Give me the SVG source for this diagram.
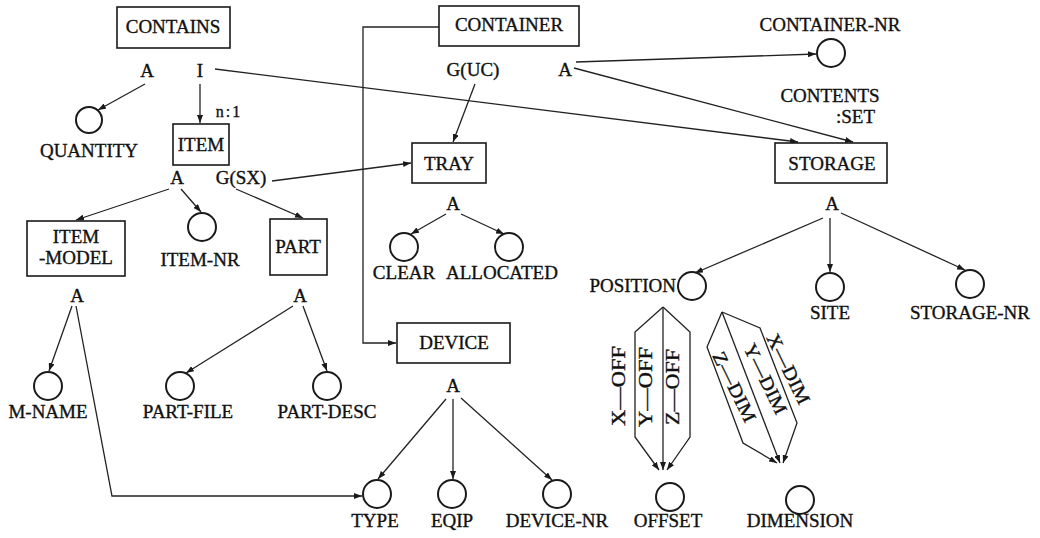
<svg xmlns="http://www.w3.org/2000/svg" width="1040" height="538" viewBox="0 0 1040 538">
<defs>
<style>
.t{font-family:'Liberation Serif','Times New Roman','DejaVu Serif',serif;font-size:19px;fill:#111;stroke:#111;stroke-width:0.35;text-anchor:middle}
.b{fill:#fff;stroke:#1a1a1a;stroke-width:1.6}
.c{fill:none;stroke:#1a1a1a;stroke-width:2}
.l{fill:none;stroke:#222;stroke-width:1.3}
</style>
<marker id="ah" markerWidth="8" markerHeight="6" refX="8" refY="3" orient="auto" markerUnits="userSpaceOnUse">
<path d="M0,0 L8,3 L0,6 z" fill="#1a1a1a"/>
</marker>
</defs>
<rect width="1040" height="538" fill="#fff"/>

<g id="connectors">
<path class="l" d="M145,84 L98,110" marker-end="url(#ah)"/>
<path class="l" d="M200,84 L200,123" marker-end="url(#ah)"/>
<path class="l" d="M215,69 L798,142" marker-end="url(#ah)"/>
<path class="l" d="M576,62 L816,54" marker-end="url(#ah)"/>
<path class="l" d="M574,68 L853,142" marker-end="url(#ah)"/>
<path class="l" d="M475,84 L453,142" marker-end="url(#ah)"/>
<path class="l" d="M272,181 L411,163" marker-end="url(#ah)"/>
<path class="l" d="M439,27 L363,27 L363,343 L396,343" marker-end="url(#ah)"/>
<path class="l" d="M169,189 L76,220" marker-end="url(#ah)"/>
<path class="l" d="M181,189 L201,212" marker-end="url(#ah)"/>
<path class="l" d="M236,189 L303,218" marker-end="url(#ah)"/>
<path class="l" d="M446,214 L411,234" marker-end="url(#ah)"/>
<path class="l" d="M461,214 L504,234" marker-end="url(#ah)"/>
<path class="l" d="M72,306 L49,371" marker-end="url(#ah)"/>
<path class="l" d="M76,306 L112,496 L362,496" marker-end="url(#ah)"/>
<path class="l" d="M293,306 L186,373" marker-end="url(#ah)"/>
<path class="l" d="M303,306 L327,371" marker-end="url(#ah)"/>
<path class="l" d="M446,399 L378,479" marker-end="url(#ah)"/>
<path class="l" d="M453,399 L453,479" marker-end="url(#ah)"/>
<path class="l" d="M461,398 L552,480" marker-end="url(#ah)"/>
<path class="l" d="M823,218 L695,273" marker-end="url(#ah)"/>
<path class="l" d="M830,218 L830,272" marker-end="url(#ah)"/>
<path class="l" d="M841,213 L965,270" marker-end="url(#ah)"/>
<path class="l" d="M663,307 L635,332 L635,437 L659,470" marker-end="url(#ah)"/>
<path class="l" d="M663,307 L663,470" marker-end="url(#ah)"/>
<path class="l" d="M663,307 L690,332 L690,437 L667,470" marker-end="url(#ah)"/>
<path class="l" d="M722,312 L707,347 L743,443 L777,463" marker-end="url(#ah)"/>
<path class="l" d="M722,312 L780,463" marker-end="url(#ah)"/>
<path class="l" d="M722,312 L760,328 L797,423 L783,463" marker-end="url(#ah)"/>
</g>

<g id="contains">
<rect class="b" x="117" y="7" width="113" height="41"/>
<text class="t" x="173" y="33">CONTAINS</text>
<text class="t" x="147" y="77">A</text>
<text class="t" x="200" y="77">I</text>
<text class="t" x="229" y="117" style="font-size:16px;letter-spacing:2px">n:1</text>
</g>
<g id="quantity">
<circle class="c" cx="89" cy="120" r="13"/>
<text class="t" x="89" y="157">QUANTITY</text>
</g>
<g id="item">
<rect class="b" x="173" y="124" width="56" height="41"/>
<text class="t" x="201" y="151">ITEM</text>
<text class="t" x="177" y="184">A</text>
<text class="t" x="241" y="184">G(SX)</text>
</g>
<g id="container">
<rect class="b" x="439" y="6" width="140" height="40"/>
<text class="t" x="509" y="31">CONTAINER</text>
<text class="t" x="473" y="76">G(UC)</text>
<text class="t" x="565" y="76">A</text>
</g>
<g id="container-nr">
<text class="t" x="830" y="31">CONTAINER-NR</text>
<circle class="c" cx="831" cy="53" r="14"/>
</g>
<g id="contents-label">
<text class="t" x="830" y="102">CONTENTS</text>
<text class="t" x="875" y="123" style="text-anchor:end">:SET</text>
</g>
<g id="storage">
<rect class="b" x="775" y="143" width="112" height="40"/>
<text class="t" x="832" y="170">STORAGE</text>
<text class="t" x="832" y="210">A</text>
</g>
<g id="tray">
<rect class="b" x="412" y="143" width="74" height="40"/>
<text class="t" x="449" y="170">TRAY</text>
<text class="t" x="453" y="210">A</text>
</g>
<g id="clear">
<circle class="c" cx="404" cy="247" r="14"/>
<text class="t" x="404" y="279">CLEAR</text>
</g>
<g id="allocated">
<circle class="c" cx="509" cy="247" r="14"/>
<text class="t" x="502" y="279">ALLOCATED</text>
</g>
<g id="item-model">
<rect class="b" x="27" y="221" width="98" height="55"/>
<text class="t" x="76" y="243">ITEM</text>
<text class="t" x="76" y="264">-MODEL</text>
<text class="t" x="77" y="302">A</text>
</g>
<g id="item-nr">
<circle class="c" cx="202" cy="227" r="14"/>
<text class="t" x="200" y="266">ITEM-NR</text>
</g>
<g id="part">
<rect class="b" x="270" y="219" width="57" height="56"/>
<text class="t" x="298" y="253">PART</text>
<text class="t" x="300" y="302">A</text>
</g>
<g id="m-name">
<circle class="c" cx="48" cy="386" r="14"/>
<text class="t" x="48" y="418">M-NAME</text>
</g>
<g id="part-file">
<circle class="c" cx="180" cy="386" r="14"/>
<text class="t" x="188" y="418">PART-FILE</text>
</g>
<g id="part-desc">
<circle class="c" cx="327" cy="386" r="14"/>
<text class="t" x="327" y="418">PART-DESC</text>
</g>
<g id="device">
<rect class="b" x="397" y="323" width="113" height="40"/>
<text class="t" x="454" y="349">DEVICE</text>
<text class="t" x="453" y="392">A</text>
</g>
<g id="type">
<circle class="c" cx="377" cy="494" r="14"/>
<text class="t" x="375" y="527">TYPE</text>
</g>
<g id="eqip">
<circle class="c" cx="452" cy="494" r="14"/>
<text class="t" x="452" y="527">EQIP</text>
</g>
<g id="device-nr">
<circle class="c" cx="557" cy="494" r="14"/>
<text class="t" x="557" y="527">DEVICE-NR</text>
</g>
<g id="position">
<text class="t" x="676" y="292" style="text-anchor:end">POSITION</text>
<circle class="c" cx="692" cy="286" r="14"/>
</g>
<g id="site">
<circle class="c" cx="830" cy="287" r="14"/>
<text class="t" x="830" y="319">SITE</text>
</g>
<g id="storage-nr">
<circle class="c" cx="970" cy="284" r="14"/>
<text class="t" x="970" y="319">STORAGE-NR</text>
</g>
<g id="offset">
<circle class="c" cx="670" cy="497" r="14"/>
<text class="t" x="668" y="527">OFFSET</text>
</g>
<g id="dimension">
<circle class="c" cx="800" cy="500" r="14"/>
<text class="t" x="800" y="527">DIMENSION</text>
</g>
<g id="offset-labels">
<text class="t" transform="translate(619,386) rotate(-90)" x="0" y="6" textLength="80" lengthAdjust="spacingAndGlyphs">X—OFF</text>
<text class="t" transform="translate(646,387) rotate(-90)" x="0" y="6" textLength="80" lengthAdjust="spacingAndGlyphs">Y—OFF</text>
<text class="t" transform="translate(673,387) rotate(-90)" x="0" y="6" textLength="76" lengthAdjust="spacingAndGlyphs">Z—OFF</text>
</g>
<g id="dimension-labels">
<text class="t" transform="translate(788,369) rotate(64)" x="0" y="6" textLength="76" lengthAdjust="spacingAndGlyphs">X—DIM</text>
<text class="t" transform="translate(765,379) rotate(64)" x="0" y="6" textLength="76" lengthAdjust="spacingAndGlyphs">Y—DIM</text>
<text class="t" transform="translate(734,387) rotate(64)" x="0" y="6" textLength="76" lengthAdjust="spacingAndGlyphs">Z—DIM</text>
</g>
</svg>
